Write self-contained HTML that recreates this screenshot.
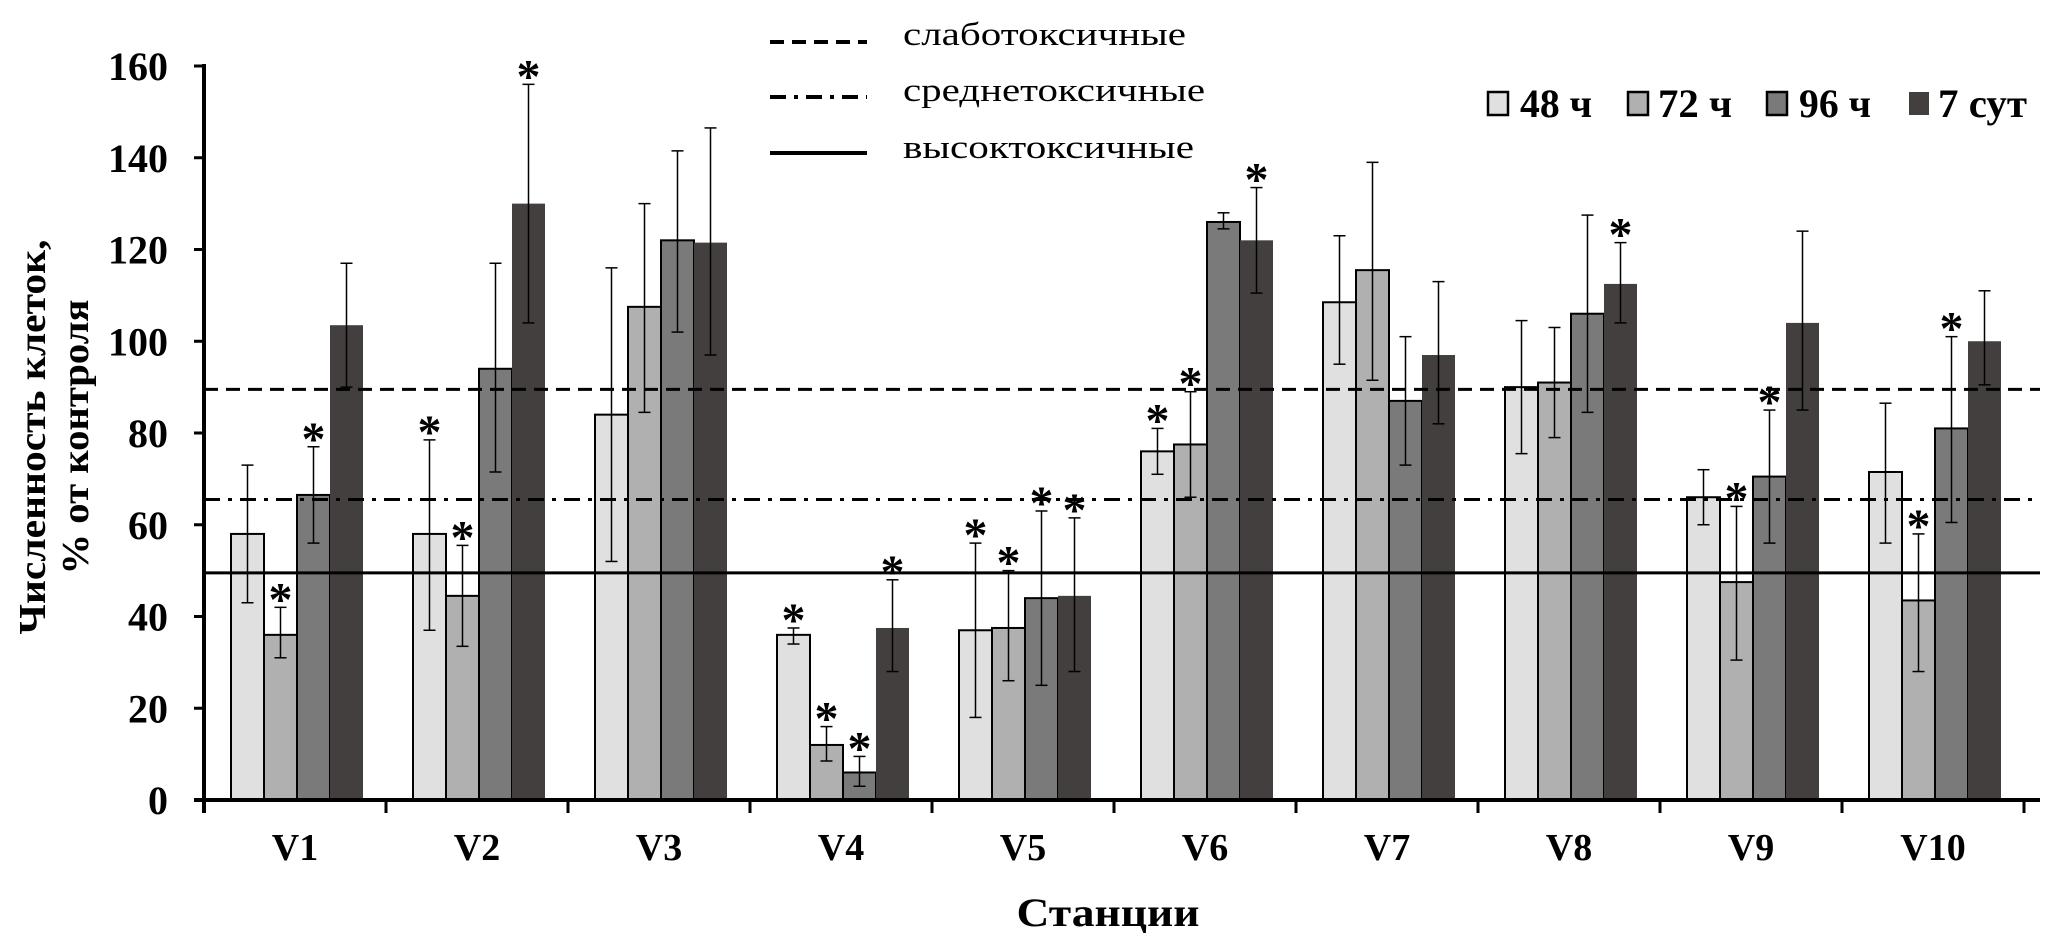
<!DOCTYPE html>
<html><head><meta charset="utf-8"><style>
html,body{margin:0;padding:0;background:#fff;}
svg{display:block;}
text{font-family:"Liberation Serif","DejaVu Serif",serif;}
</style></head><body>
<svg id="chart" width="2055" height="934" viewBox="0 0 2055 934" xmlns="http://www.w3.org/2000/svg"></svg>
<script>
const categories = ["V1","V2","V3","V4","V5","V6","V7","V8","V9","V10"];
const seriesNames = ["48 ч","72 ч","96 ч","7 сут"];
const s48 = [58,58,84,36,37,76,108.5,90,66,71.5];
const s72 = [36,44.5,107.5,12,37.5,77.5,115.5,91,47.5,43.5];
const s96 = [66.5,94,122,6,44,126,87,106,70.5,81];
const s7d = [103.5,130,121.5,37.5,44.5,122,97,112.5,104,100];
const lo48 = [43,37,52,34,18,71,95,75.5,60,56];
const hi48 = [73,78.5,116,37.5,56,81,123,104.5,72,86.5];
const lo72 = [31,33.5,84.5,8.5,26,66,91.5,79,30.5,28];
const hi72 = [42,55.5,130,16,50,89,139,103,64,58];
const lo96 = [56,71.5,102,3,25,124.5,73,84.5,56,60.5];
const hi96 = [77,117,141.5,9.5,63,128,101,127.5,85,101];
const lo7d = [90,104,97,28,28,110.5,82,104,85,90.5];
const hi7d = [117,156,146.5,48,61.5,133.5,113,121.5,124,111];
const star48 = [0,1,0,1,1,1,0,0,0,0];
const star72 = [1,1,0,1,1,1,0,0,1,1];
const star96 = [1,0,0,1,1,0,0,0,1,1];
const star7d = [0,1,0,1,1,1,0,1,0,0];
const yTicks = [0,20,40,60,80,100,120,140,160];
const refValues = [89.5,65.5,49.5];
const refNames = ["слаботоксичные","среднетоксичные","высоктоксичные"];

const NS="http://www.w3.org/2000/svg";
const svg=document.getElementById('chart');
const X0=204, CW=182, Y0=800, YT=66, YMAX=160, XEND=2040;
const y=v=>Y0-(v/YMAX)*(Y0-YT);
const catX=i=>X0+i*CW;
function el(tag,attrs,parent){const e=document.createElementNS(NS,tag);for(const k in attrs)e.setAttribute(k,attrs[k]);(parent||svg).appendChild(e);return e;}

const colors=["#e0e0e0","#b0b0b0","#7a7a7a","#443f3f"];
const vals=[s48,s72,s96,s7d], los=[lo48,lo72,lo96,lo7d], his=[hi48,hi72,hi96,hi7d], stars=[star48,star72,star96,star7d];
const BW=33, OFF=27;

categories.forEach((c,i)=>{
  for(let s=0;s<4;s++){
    const bx=catX(i)+OFF+s*BW;
    const r=el('rect',{x:bx,y:y(vals[s][i]),width:BW,height:Y0-y(vals[s][i]),fill:colors[s],stroke:s<3?'#000':'none','stroke-width':2});
    
    
  }
});
const dashes=["14,8","16,8,4,8",""];
refValues.forEach((v,k)=>{
  const l=el('line',{x1:X0,x2:XEND,y1:y(v),y2:y(v),stroke:'#000','stroke-width':3,'stroke-dasharray':dashes[k]});
  
  
});
categories.forEach((c,i)=>{
  for(let s=0;s<4;s++){
    const cx=catX(i)+OFF+s*BW+BW/2;
    const g=el('g',{stroke:'#000','stroke-width':1.5});
    
    
    el('line',{x1:cx,x2:cx,y1:y(los[s][i]),y2:y(his[s][i])},g);
    el('line',{x1:cx-6,x2:cx+6,y1:y(los[s][i]),y2:y(los[s][i])},g);
    el('line',{x1:cx-6,x2:cx+6,y1:y(his[s][i]),y2:y(his[s][i])},g);
    if(stars[s][i]){
      const t=el('text',{x:cx,y:y(his[s][i])+8,'text-anchor':'middle','font-size':48,'font-weight':'bold'});
      t.textContent='*';
      
      
    }
  }
});
const ya=el('line',{x1:X0,x2:X0,y1:YT-2,y2:Y0+13,stroke:'#000','stroke-width':4});


const xa=el('line',{x1:X0-10,x2:XEND,y1:Y0,y2:Y0,stroke:'#000','stroke-width':4});


yTicks.forEach(v=>{
  el('line',{x1:X0-10,x2:X0,y1:y(v),y2:y(v),stroke:'#000','stroke-width':3});
  const t=el('text',{x:168,y:y(v)+14,'text-anchor':'end','font-size':40,'font-weight':'bold'});
  t.textContent=v;
  
  
});
for(let i=1;i<=categories.length;i++){
  el('line',{x1:catX(i),x2:catX(i),y1:Y0,y2:Y0+13,stroke:'#000','stroke-width':3});
}
categories.forEach((c,i)=>{
  const t=el('text',{x:catX(i)+CW/2,y:860,'text-anchor':'middle','font-size':38,'font-weight':'bold'});
  t.textContent=c;
  
  
});
const xt=el('text',{x:1108,y:926,'text-anchor':'middle','font-size':40,'font-weight':'bold',textLength:183,lengthAdjust:'spacingAndGlyphs'});
xt.textContent='Станции';


const yt=el('text',{transform:'rotate(-90)','text-anchor':'middle','font-size':38,'font-weight':'bold'});


const t1=el('tspan',{x:-437,y:45,textLength:395,lengthAdjust:'spacingAndGlyphs'},yt); t1.textContent='Численность клеток,';
const t2=el('tspan',{x:-437,y:88,textLength:275,lengthAdjust:'spacingAndGlyphs'},yt); t2.textContent='% от контроля';
const ly=[42,97,153];
const lb=[45,101,158];
const lw=[283,302,291];
refNames.forEach((n,k)=>{
  const g=el('g',{});
  
  
  el('line',{x1:770,x2:867,y1:ly[k],y2:ly[k],stroke:'#000','stroke-width':4,'stroke-dasharray':dashes[k]},g);
  const t=el('text',{x:903,y:lb[k],'font-size':33,textLength:lw[k],lengthAdjust:'spacingAndGlyphs'},g);
  t.textContent=n;
});
const lx=[1488,1628,1767,1909];
const tx=[1520,1658,1799,1938];
const tw=[72,74,72,89];
seriesNames.forEach((n,s)=>{
  const g=el('g',{});
  
  
  el('rect',{x:lx[s],y:92,width:20,height:23,fill:colors[s],stroke:s<3?'#000':'none','stroke-width':2.5},g);
  const t=el('text',{x:tx[s],y:117,'font-size':40,'font-weight':'bold',textLength:tw[s],lengthAdjust:'spacingAndGlyphs'},g);
  t.textContent=n;
});
</script>
</body></html>
